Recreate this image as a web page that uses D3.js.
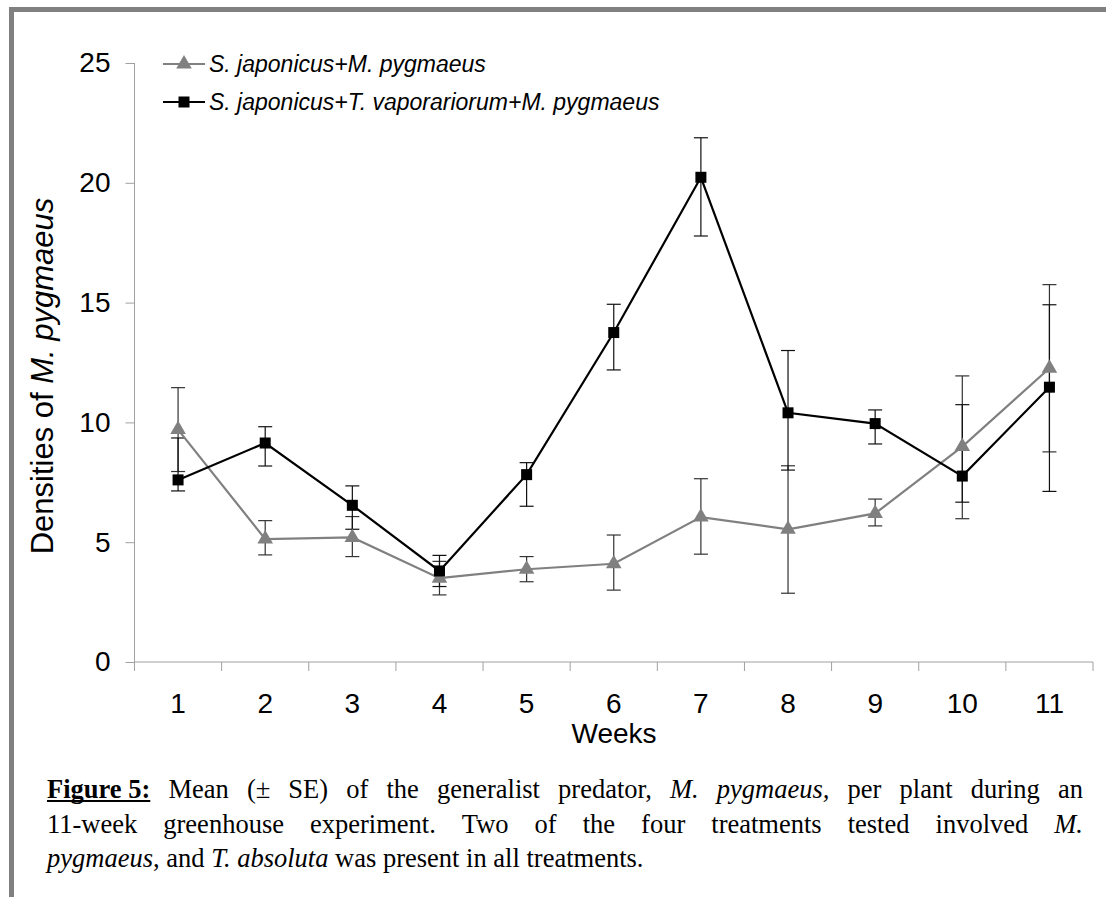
<!DOCTYPE html>
<html><head><meta charset="utf-8">
<script src="https://cdn.jsdelivr.net/npm/d3@7/dist/d3.min.js"></script>
<style>
html,body{margin:0;padding:0;background:#fff;}
svg{display:block;}
</style></head>
<body>
<svg id="chart" width="1106" height="897"></svg>
<script>
// ---- data ----
const weeks = ["1","2","3","4","5","6","7","8","9","10","11"];
const yTicks = [0,5,10,15,20,25];
const seriesNames = ["S. japonicus+M. pygmaeus","S. japonicus+T. vaporariorum+M. pygmaeus"];
const grayMean = [9.7, 5.13, 5.2, 3.5, 3.87, 4.1, 6.05, 5.54, 6.2, 8.99, 12.26];
const grayHi   = [11.45, 5.9, 6.07, 4.2, 4.4, 5.3, 7.65, 8.19, 6.8, 11.94, 15.75];
const grayLo   = [7.95, 4.47, 4.4, 2.8, 3.35, 3.0, 4.5, 2.87, 5.68, 5.98, 8.77];
const blackMean = [7.6, 9.14, 6.54, 3.8, 7.82, 13.75, 20.23, 10.4, 9.95, 7.76, 11.47];
const blackHi   = [9.35, 9.82, 7.35, 4.45, 8.32, 14.93, 21.88, 13.0, 10.52, 10.74, 14.91];
const blackLo   = [7.14, 8.18, 5.54, 3.15, 6.5, 12.19, 17.78, 8.01, 9.1, 6.67, 7.12];

const svg = d3.select("#chart");
const SANS = "'Liberation Sans', Arial, sans-serif";
const SERIF = "'Liberation Serif', 'Times New Roman', serif";

// frame border
svg.append("rect").attr("x",9).attr("y",7).attr("width",1106).attr("height",5).attr("fill","#808080");
svg.append("rect").attr("x",9).attr("y",7).attr("width",5).attr("height",900).attr("fill","#808080");

const x = d3.scaleBand().domain(weeks).range([134.5, 1093]).padding(0);
const y = d3.scaleLinear().domain([0,25]).range([662, 63]);

// axes
const yAxis = svg.append("g").attr("transform","translate(134.5,0)")
  .call(d3.axisLeft(y).tickValues(yTicks).tickSize(9).tickPadding(15));
yAxis.select(".domain").attr("stroke","#a0a0a0").attr("d","M0,"+y(25)+"V"+(y(0)+9));
yAxis.selectAll(".tick line").attr("stroke","#a0a0a0");
yAxis.selectAll(".tick text").attr("font-family",SANS).attr("font-size",28).attr("fill","#000");

const xAxis = svg.append("g").attr("transform","translate(0,662)")
  .call(d3.axisBottom(x).tickSize(0).tickPadding(31));
xAxis.select(".domain").attr("stroke","#a0a0a0").attr("d","M134.5,0H1093");
xAxis.selectAll(".tick text").attr("font-family",SANS).attr("font-size",28).attr("fill","#000");
// boundary ticks
const bounds = weeks.map(w => x(w)).concat([x(weeks[weeks.length-1]) + x.bandwidth()]);
svg.append("g").selectAll("line").data(bounds).join("line")
  .attr("x1",d=>d).attr("x2",d=>d).attr("y1",662).attr("y2",671)
  .attr("stroke","#a0a0a0");

// axis titles
svg.append("text").attr("x",614).attr("y",743).attr("text-anchor","middle")
  .attr("font-family",SANS).attr("font-size",28).text("Weeks");
const yt = svg.append("text").attr("transform","translate(53,376) rotate(-90)")
  .attr("text-anchor","middle").attr("font-family",SANS).attr("font-size",31);
yt.append("tspan").text("Densities of ");
yt.append("tspan").attr("font-style","italic").text("M. pygmaeus");

const cx = i => x(weeks[i]) + x.bandwidth()/2;

// error bars
function errorBars(hi, lo, color){
  const g = svg.append("g").attr("stroke",color).attr("stroke-width",1.2);
  weeks.forEach((w,i)=>{
    g.append("line").attr("x1",cx(i)).attr("x2",cx(i)).attr("y1",y(hi[i])).attr("y2",y(lo[i]));
    g.append("line").attr("x1",cx(i)-7).attr("x2",cx(i)+7).attr("y1",y(hi[i])).attr("y2",y(hi[i]));
    g.append("line").attr("x1",cx(i)-7).attr("x2",cx(i)+7).attr("y1",y(lo[i])).attr("y2",y(lo[i]));
  });
}
errorBars(grayHi, grayLo, "#333");
errorBars(blackHi, blackLo, "#111");

const line = d3.line().x((d,i)=>cx(i)).y(d=>y(d));
svg.append("path").datum(grayMean).attr("d",line).attr("fill","none").attr("stroke","#808080").attr("stroke-width",2.2);
svg.append("path").datum(blackMean).attr("d",line).attr("fill","none").attr("stroke","#000").attr("stroke-width",2.2);

const tri = d3.symbol().type(d3.symbolTriangle).size(105);
svg.append("g").selectAll("path").data(grayMean).join("path")
  .attr("d",tri).attr("transform",(d,i)=>`translate(${cx(i)},${y(d)})`).attr("fill","#808080");
svg.append("g").selectAll("rect").data(blackMean).join("rect")
  .attr("x",(d,i)=>cx(i)-5.5).attr("y",d=>y(d)-5.5).attr("width",11).attr("height",11).attr("fill","#000");

// legend
const leg = [{c:"#808080", t:"tri", y:64},{c:"#000", t:"sq", y:102}];
leg.forEach((l,k)=>{
  svg.append("line").attr("x1",163).attr("x2",205).attr("y1",l.y).attr("y2",l.y).attr("stroke",l.c).attr("stroke-width",2);
  if(l.t==="tri") svg.append("path").attr("d",tri).attr("transform",`translate(184,${l.y})`).attr("fill",l.c);
  else svg.append("rect").attr("x",178.5).attr("y",l.y-5.5).attr("width",11).attr("height",11).attr("fill",l.c);
  svg.append("text").attr("x",209).attr("y",l.y+8).attr("font-family",SANS).attr("font-style","italic")
    .attr("font-size",23).text(seriesNames[k]);
});

// caption (justified)
const capLines = [
  {just:true, words:[
    [{t:"Figure 5:",b:1,u:1}],[{t:"Mean"}],[{t:"(±"}],[{t:"SE)"}],[{t:"of"}],[{t:"the"}],[{t:"generalist"}],[{t:"predator,"}],
    [{t:"M.",i:1}],[{t:"pygmaeus,",i:1}],[{t:"per"}],[{t:"plant"}],[{t:"during"}],[{t:"an"}]]},
  {just:true, words:[
    [{t:"11-week"}],[{t:"greenhouse"}],[{t:"experiment."}],[{t:"Two"}],[{t:"of"}],[{t:"the"}],[{t:"four"}],[{t:"treatments"}],
    [{t:"tested"}],[{t:"involved"}],[{t:"M.",i:1}]]},
  {just:false, words:[
    [{t:"pygmaeus",i:1},{t:","}],[{t:"and"}],[{t:"T.",i:1}],[{t:"absoluta",i:1}],[{t:"was"}],[{t:"present"}],[{t:"in"}],[{t:"all"}],[{t:"treatments."}]]}
];
const capX0 = 47, capX1 = 1083, capFS = 26.5;
const capBase = [798, 833, 867];
capLines.forEach((ln, li)=>{
  const nodes = ln.words.map(w=>{
    const t = svg.append("text").attr("y",capBase[li]).attr("font-family",SERIF).attr("font-size",capFS).attr("fill","#000");
    w.forEach(s=>{
      const ts = t.append("tspan").text(s.t);
      if(s.b) ts.attr("font-weight","bold");
      if(s.i) ts.attr("font-style","italic");
    });
    return {t, w, len: t.node().getComputedTextLength()};
  });
  const total = d3.sum(nodes, n=>n.len);
  const spaceW = capFS*0.25;
  const gap = ln.just ? (capX1-capX0-total)/(nodes.length-1) : spaceW;
  let cxp = capX0;
  nodes.forEach((n,k)=>{
    n.t.attr("x",cxp);
    if(n.w[0].u){
      svg.append("line").attr("x1",cxp).attr("x2",cxp+n.len).attr("y1",capBase[li]+3).attr("y2",capBase[li]+3)
        .attr("stroke","#000").attr("stroke-width",1.8);
    }
    cxp += n.len + gap;
  });
});
</script>
</body></html>
